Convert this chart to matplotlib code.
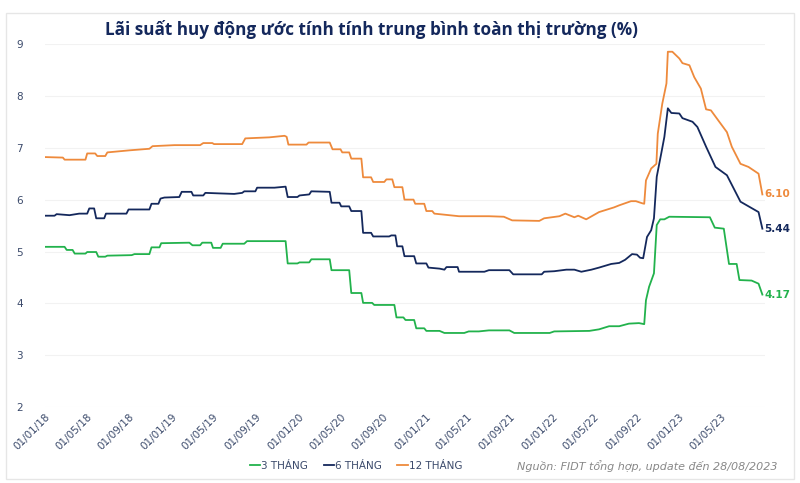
import numpy as np
import pandas as pd
import matplotlib.pyplot as plt
import matplotlib.dates as mdates
from matplotlib.patches import Rectangle

# 12 thang
dates_12 = ["2018-01-01", "2018-02-22", "2018-02-27", "2018-04-28", "2018-05-03", "2018-05-26",
            "2018-06-01", "2018-06-24", "2018-06-30", "2018-09-02", "2018-10-29", "2018-11-07",
            "2019-01-09", "2019-03-24", "2019-04-02", "2019-04-28", "2019-05-03", "2019-07-23",
            "2019-08-01", "2019-10-09", "2019-11-22", "2019-11-28", "2019-12-03", "2020-01-24",
            "2020-01-30", "2020-03-31", "2020-04-08", "2020-05-01", "2020-05-06", "2020-05-26",
            "2020-06-01", "2020-06-30", "2020-07-05", "2020-07-28", "2020-08-03", "2020-09-04",
            "2020-09-10", "2020-09-27", "2020-10-03", "2020-10-26", "2020-11-01", "2020-11-27",
            "2020-12-02", "2020-12-28", "2021-01-03", "2021-01-20", "2021-01-26", "2021-04-07",
            "2021-07-02", "2021-08-14", "2021-09-07", "2021-11-24", "2021-12-08", "2022-01-21",
            "2022-02-07", "2022-03-05", "2022-03-16", "2022-04-08", "2022-05-15", "2022-06-27",
            "2022-07-12", "2022-08-15", "2022-08-29", "2022-09-16", "2022-09-22", "2022-09-27",
            "2022-10-12", "2022-10-27", "2022-10-31", "2022-11-13", "2022-11-25", "2022-11-29",
            "2022-12-12", "2023-01-01", "2023-01-10", "2023-01-30", "2023-02-13", "2023-03-04",
            "2023-03-19", "2023-04-02", "2023-04-26", "2023-05-18", "2023-06-01", "2023-06-26",
            "2023-07-19", "2023-08-17", "2023-08-28"]
vals_12 = [6.82, 6.81, 6.77, 6.77, 6.89, 6.89,
           6.84, 6.84, 6.91, 6.95, 6.98, 7.03,
           7.05, 7.05, 7.09, 7.09, 7.07, 7.07,
           7.18, 7.20, 7.23, 7.21, 7.06, 7.06,
           7.10, 7.10, 6.97, 6.97, 6.91, 6.91,
           6.79, 6.79, 6.43, 6.43, 6.34, 6.34,
           6.39, 6.39, 6.24, 6.24, 6.00, 6.00,
           5.92, 5.92, 5.78, 5.78, 5.73, 5.68,
           5.68, 5.67, 5.60, 5.59, 5.64, 5.68,
           5.73, 5.66, 5.69, 5.62, 5.76, 5.85,
           5.89, 5.97, 5.97, 5.93, 5.92, 6.37,
           6.60, 6.69, 7.27, 7.85, 8.24, 8.85,
           8.85, 8.72, 8.63, 8.59, 8.36, 8.14,
           7.74, 7.72, 7.50, 7.30, 7.02, 6.69,
           6.63, 6.50, 6.10]

# 6 thang
dates_6 = ["2018-01-01", "2018-01-29", "2018-02-04", "2018-03-13", "2018-04-10", "2018-05-03",
           "2018-05-09", "2018-05-23", "2018-05-29", "2018-06-21", "2018-06-26", "2018-08-24",
           "2018-08-30", "2018-10-29", "2018-11-04", "2018-11-24", "2018-11-30", "2018-12-11",
           "2019-01-23", "2019-01-30", "2019-02-27", "2019-03-04", "2019-04-02", "2019-04-08",
           "2019-05-18", "2019-06-30", "2019-07-23", "2019-07-29", "2019-08-30", "2019-09-04",
           "2019-10-24", "2019-11-25", "2019-12-01", "2019-12-29", "2020-01-04", "2020-02-01",
           "2020-02-07", "2020-03-31", "2020-04-05", "2020-04-28", "2020-05-03", "2020-05-26",
           "2020-06-01", "2020-06-30", "2020-07-05", "2020-07-28", "2020-08-03", "2020-09-18",
           "2020-09-24", "2020-10-06", "2020-10-11", "2020-10-26", "2020-11-01", "2020-11-29",
           "2020-12-05", "2021-01-03", "2021-01-09", "2021-02-10", "2021-02-24", "2021-03-02",
           "2021-04-03", "2021-04-07", "2021-06-19", "2021-07-02", "2021-08-30", "2021-09-10",
           "2021-12-01", "2021-12-08", "2022-01-06", "2022-02-10", "2022-03-05", "2022-03-25",
           "2022-04-23", "2022-05-15", "2022-06-19", "2022-07-12", "2022-07-29", "2022-08-18",
           "2022-09-01", "2022-09-10", "2022-09-19", "2022-09-30", "2022-10-12", "2022-10-20",
           "2022-10-28", "2022-11-10", "2022-11-19", "2022-11-29", "2022-12-09", "2023-01-01",
           "2023-01-10", "2023-02-08", "2023-02-22", "2023-03-19", "2023-04-15", "2023-05-18",
           "2023-06-26", "2023-08-17", "2023-08-28"]
vals_6 = [5.69, 5.69, 5.72, 5.70, 5.73, 5.73,
          5.83, 5.83, 5.64, 5.64, 5.73, 5.73,
          5.81, 5.81, 5.92, 5.92, 6.02, 6.04,
          6.05, 6.15, 6.15, 6.08, 6.08, 6.13,
          6.12, 6.11, 6.13, 6.16, 6.16, 6.23,
          6.23, 6.25, 6.05, 6.05, 6.08, 6.10,
          6.16, 6.15, 5.94, 5.94, 5.87, 5.87,
          5.78, 5.78, 5.36, 5.36, 5.29, 5.29,
          5.31, 5.31, 5.10, 5.10, 4.91, 4.91,
          4.77, 4.77, 4.69, 4.67, 4.65, 4.70,
          4.70, 4.61, 4.61, 4.64, 4.64, 4.56,
          4.56, 4.61, 4.62, 4.65, 4.65, 4.61,
          4.65, 4.69, 4.76, 4.78, 4.84, 4.95,
          4.94, 4.88, 4.87, 5.28, 5.41, 5.64,
          6.44, 6.89, 7.21, 7.76, 7.67, 7.66,
          7.57, 7.50, 7.40, 7.02, 6.63, 6.47,
          5.96, 5.76, 5.44]

# 3 thang
dates_3 = ["2018-01-01", "2018-02-27", "2018-03-05", "2018-03-22", "2018-03-28", "2018-04-28",
           "2018-05-03", "2018-05-29", "2018-06-04", "2018-06-24", "2018-06-30", "2018-09-08",
           "2018-09-16", "2018-10-29", "2018-11-04", "2018-11-27", "2018-12-02", "2019-02-21",
           "2019-03-02", "2019-03-24", "2019-03-30", "2019-04-25", "2019-04-30", "2019-05-22",
           "2019-05-28", "2019-07-29", "2019-08-06", "2019-11-25", "2019-12-01", "2019-12-29",
           "2020-01-04", "2020-02-01", "2020-02-07", "2020-03-31", "2020-04-05", "2020-05-26",
           "2020-06-01", "2020-06-30", "2020-07-05", "2020-07-31", "2020-08-06", "2020-10-03",
           "2020-10-09", "2020-10-29", "2020-11-04", "2020-11-29", "2020-12-05", "2020-12-28",
           "2021-01-03", "2021-02-10", "2021-02-24", "2021-04-22", "2021-05-05", "2021-06-03",
           "2021-07-02", "2021-08-30", "2021-09-13", "2021-12-24", "2022-01-06", "2022-04-17",
           "2022-05-15", "2022-06-13", "2022-07-12", "2022-08-09", "2022-09-07", "2022-09-22",
           "2022-09-27", "2022-10-06", "2022-10-20", "2022-10-28", "2022-11-07", "2022-11-19",
           "2022-12-03", "2023-03-30", "2023-04-13", "2023-05-09", "2023-05-24", "2023-06-15",
           "2023-06-23", "2023-07-28", "2023-08-17", "2023-08-28"]
vals_3 = [5.09, 5.09, 5.03, 5.03, 4.96, 4.96,
          4.99, 4.99, 4.90, 4.90, 4.92, 4.93,
          4.95, 4.95, 5.08, 5.08, 5.16, 5.17,
          5.12, 5.12, 5.17, 5.17, 5.07, 5.07,
          5.15, 5.15, 5.20, 5.20, 4.77, 4.77,
          4.79, 4.79, 4.85, 4.85, 4.64, 4.64,
          4.20, 4.20, 4.01, 4.01, 3.97, 3.97,
          3.73, 3.73, 3.68, 3.68, 3.52, 3.52,
          3.47, 3.47, 3.43, 3.43, 3.46, 3.46,
          3.48, 3.48, 3.43, 3.43, 3.46, 3.47,
          3.50, 3.56, 3.56, 3.61, 3.62, 3.60,
          4.06, 4.32, 4.58, 5.51, 5.62, 5.62,
          5.67, 5.66, 5.46, 5.44, 4.76, 4.76,
          4.45, 4.44, 4.38, 4.17]

labels = ["3 THÁNG", "6 THÁNG", "12 THÁNG"]
colors = ["#22b24c", "#14285c", "#ee8a3c"]
tick_dates = pd.date_range("2018-01-01", "2023-05-01", freq="4MS")

fig = plt.figure(figsize=(8, 4.83), dpi=100)
ax = fig.add_axes([0.056, 0.157, 0.9, 0.752])

series = [(dates_3, vals_3), (dates_6, vals_6), (dates_12, vals_12)]
for (d, v), lab, c in zip(series, labels, colors):
    ax.plot(pd.to_datetime(d), v, color=c, lw=1.3, label=lab)
    ax.text(pd.to_datetime(d[-1]) + pd.Timedelta(days=6), v[-1], f"{v[-1]:.2f}",
            color=c, fontsize=7.5, fontweight="bold", va="center", ha="left")

ax.set_ylim(2, 9)
ax.set_yticks(range(2, 10))
ax.set_xlim(pd.Timestamp("2018-01-01"), pd.Timestamp("2023-09-04"))
ax.set_xticks(tick_dates)
ax.xaxis.set_major_formatter(mdates.DateFormatter("%d/%m/%y"))
ax.grid(axis="y", color="#f2f2f2", lw=0.8)
ax.set_axisbelow(True)
for s in ax.spines.values():
    s.set_visible(False)
ax.tick_params(length=0, colors="#3b4a6b", labelsize=7.5)
ax.tick_params(axis="y", pad=16)
for t in ax.get_xticklabels():
    t.set_rotation(45)
    t.set_ha("right")
    t.set_rotation_mode("anchor")

fig.text(0.131, 0.938, "Lãi suất huy động ước tính tính trung bình toàn thị trường (%)",
         fontsize=12.3, fontweight="bold", color="#14285c", family="Open Sans", va="center")

fig.legend(loc="center", bbox_to_anchor=(0.445, 0.035), ncol=3, frameon=False,
           fontsize=7.5, handlelength=1.0, handletextpad=0.1, columnspacing=1.5,
           labelcolor="#3b4a6b")
fig.text(0.972, 0.035, "Nguồn: FIDT tổng hợp, update đến 28/08/2023", fontsize=8,
         style="italic", color="#888888", ha="right", va="center")

fig.patches.append(Rectangle((0.008, 0.008), 0.984, 0.965, transform=fig.transFigure,
                             fill=False, edgecolor="#e6e6e6", lw=1))

fig.savefig("out.png", dpi=100)
